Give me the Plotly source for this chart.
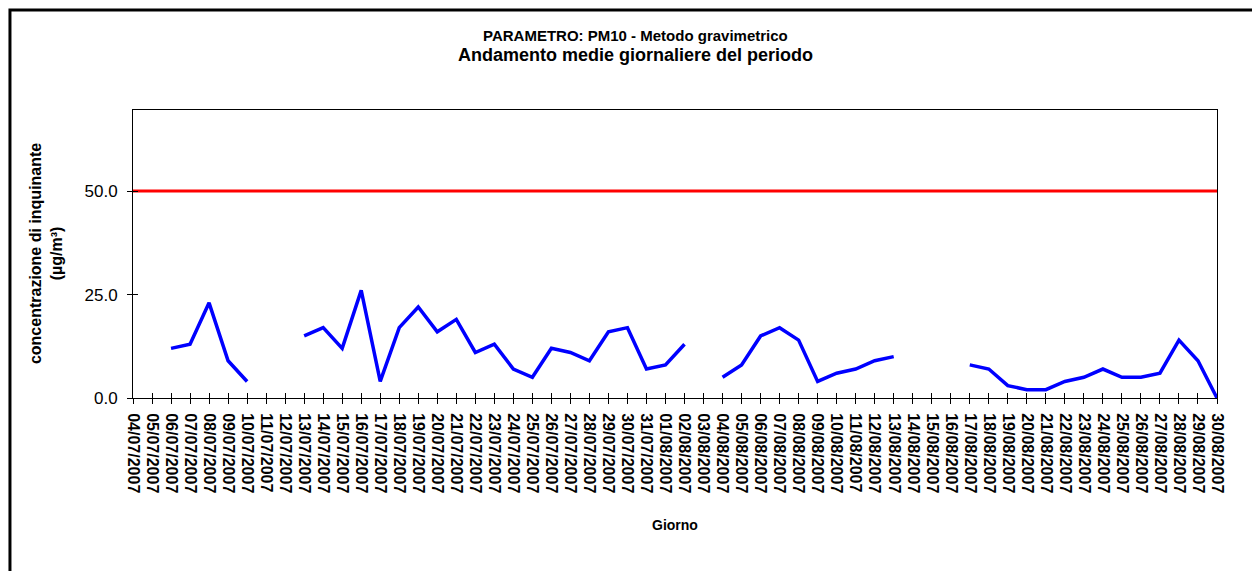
"""
PM10 - medie giornaliere del periodo 04/07/2007 - 30/08/2007.

Ricostruzione del grafico in stile Excel con Plotly.
"""
from __future__ import annotations

from typing import List, Optional

import plotly.graph_objects as go

# ---------------------------------------------------------------------------
# Dati
# ---------------------------------------------------------------------------

GIORNI: List[str] = [
    "04/07/2007", "05/07/2007", "06/07/2007", "07/07/2007", "08/07/2007",
    "09/07/2007", "10/07/2007", "11/07/2007", "12/07/2007", "13/07/2007",
    "14/07/2007", "15/07/2007", "16/07/2007", "17/07/2007", "18/07/2007",
    "19/07/2007", "20/07/2007", "21/07/2007", "22/07/2007", "23/07/2007",
    "24/07/2007", "25/07/2007", "26/07/2007", "27/07/2007", "28/07/2007",
    "29/07/2007", "30/07/2007", "31/07/2007", "01/08/2007", "02/08/2007",
    "03/08/2007", "04/08/2007", "05/08/2007", "06/08/2007", "07/08/2007",
    "08/08/2007", "09/08/2007", "10/08/2007", "11/08/2007", "12/08/2007",
    "13/08/2007", "14/08/2007", "15/08/2007", "16/08/2007", "17/08/2007",
    "18/08/2007", "19/08/2007", "20/08/2007", "21/08/2007", "22/08/2007",
    "23/08/2007", "24/08/2007", "25/08/2007", "26/08/2007", "27/08/2007",
    "28/08/2007", "29/08/2007", "30/08/2007",
]

# medie giornaliere PM10 (µg/m³), None = dato mancante
PM10: List[Optional[float]] = [
    None, None, 12, 13, 23, 9, 4, None, None, 15,
    17, 12, 26, 4, 17, 22, 16, 19, 11, 13,
    7, 5, 12, 11, 9, 16, 17, 7, 8, 13,
    None, 5, 8, 15, 17, 14, 4, 6, 7, 9,
    10, None, None, None, 8, 7, 3, 2, 2, 4,
    5, 7, 5, 5, 6, 14, 9, 0,
]

VALORE_LIMITE = 50.0
Y_TICKS = [0, 25, 50]

FONT = "Liberation Sans, Arial, sans-serif"

# ---------------------------------------------------------------------------
# Figura
# ---------------------------------------------------------------------------

idx = list(range(len(GIORNI)))
x_range = [0, len(GIORNI) - 1]
y_range = [0, 69.6]

fig = go.Figure()
fig.add_trace(
    go.Scatter(
        x=idx,
        y=[VALORE_LIMITE] * len(GIORNI),
        mode="lines",
        line=dict(color="#ff0000", width=3),
        hoverinfo="skip",
        showlegend=False,
    )
)
fig.add_trace(
    go.Scatter(
        x=idx,
        y=PM10,
        text=GIORNI,
        mode="lines",
        line=dict(color="#0000ff", width=3.5),
        connectgaps=False,
        showlegend=False,
        hovertemplate="%{text}: %{y:.1f}<extra></extra>",
    )
)

# la pagina html ha 8px di margine del body: la figura è ridotta di conseguenza
fig.update_layout(
    width=1252,
    height=563,
    margin=dict(l=125, r=43, t=102, b=173),
    paper_bgcolor="white",
    plot_bgcolor="white",
    font=dict(family=FONT, color="black"),
    xaxis=dict(
        range=x_range,
        tickmode="array",
        tickvals=idx,
        ticktext=[f"<b>{g}</b>" for g in GIORNI],
        tickangle=90,
        tickfont=dict(size=16),
        ticks="outside",
        ticklen=5,
        tickcolor="black",
        ticklabelstandoff=6,
        showline=True,
        linecolor="black",
        linewidth=1,
        mirror=True,
        showgrid=False,
        zeroline=False,
    ),
    yaxis=dict(
        range=y_range,
        tickmode="array",
        tickvals=Y_TICKS,
        tickformat=".1f",
        tickfont=dict(size=17),
        ticks="outside",
        ticklen=5,
        tickcolor="black",
        ticklabelstandoff=6,
        showline=True,
        linecolor="black",
        linewidth=1,
        mirror=True,
        showgrid=False,
        zeroline=False,
    ),
    # assi sovrapposti solo per i tick interni (effetto "incrociato" di Excel)
    xaxis2=dict(
        overlaying="x",
        anchor="y",
        range=x_range,
        tickmode="array",
        tickvals=idx,
        ticks="inside",
        ticklen=5,
        tickcolor="black",
        showticklabels=False,
        showgrid=False,
        zeroline=False,
    ),
    yaxis2=dict(
        overlaying="y",
        anchor="x",
        side="left",
        range=y_range,
        tickmode="array",
        tickvals=Y_TICKS,
        ticks="inside",
        ticklen=5,
        tickcolor="black",
        showticklabels=False,
        showgrid=False,
        zeroline=False,
    ),
)

# traccia invisibile per attivare gli assi secondari
fig.add_trace(
    go.Scatter(
        x=[idx[0]],
        y=[0],
        xaxis="x2",
        yaxis="y2",
        mode="markers",
        marker=dict(opacity=0),
        hoverinfo="skip",
        showlegend=False,
    )
)

annotations = [
    dict(text="<b>PARAMETRO: PM10 - Metodo gravimetrico</b>", x=0.464, y=1.26, size=15),
    dict(text="<b>Andamento medie giornaliere del periodo</b>", x=0.464, y=1.191, size=18),
    dict(text="<b>Giorno</b>", x=0.5, y=-0.441, size=14),
]
for a in annotations:
    fig.add_annotation(
        text=a["text"],
        x=a["x"],
        y=a["y"],
        xref="paper",
        yref="paper",
        xanchor="center",
        yanchor="middle",
        showarrow=False,
        font=dict(size=a["size"], family=FONT, color="black"),
    )

fig.add_annotation(
    text="<b>concentrazione di inquinante<br>(µg/m³)</b>",
    x=-0.0803,
    y=0.503,
    xref="paper",
    yref="paper",
    xanchor="center",
    yanchor="middle",
    textangle=-90,
    showarrow=False,
    font=dict(size=16, family=FONT, color="black"),
)

# cornice esterna dell'area grafico
fig.add_shape(
    type="rect",
    xref="paper",
    yref="paper",
    x0=-0.1135,
    x1=1.2,
    y0=-1.0,
    y1=1.347,
    line=dict(color="black", width=3),
    layer="above",
)

fig.write_html("out.html")
